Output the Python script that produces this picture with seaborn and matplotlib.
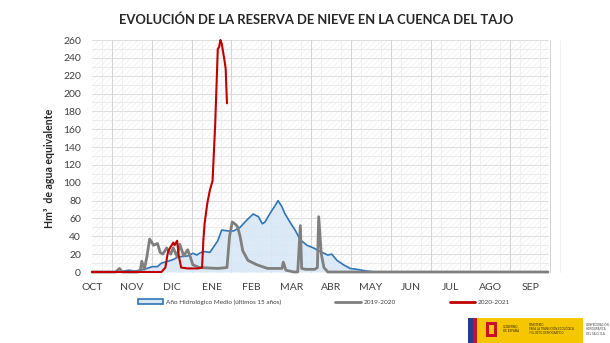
import matplotlib
matplotlib.use("Agg")
import matplotlib.pyplot as plt
import numpy as np
import pandas as pd
import seaborn as sns
from matplotlib.patches import Rectangle, Patch
from matplotlib.lines import Line2D

# ---------------- data ----------------
meses = ["OCT", "NOV", "DIC", "ENE", "FEB", "MAR", "ABR", "MAY", "JUN", "JUL", "AGO", "SEP"]
dias_mes = 30.4

dias_medio = [0, 21, 28, 33, 40, 46, 50, 53, 58, 62, 66, 73, 77, 80, 82, 85, 90, 96, 99,
              104, 108, 113, 118, 123, 127, 130, 132, 136, 140, 142, 145, 147, 151, 155,
              159, 164, 169, 174, 180, 183, 187, 192, 197, 202, 210, 216, 348]
medio = [0, 0, 2, 1, 3, 6, 6, 10, 12, 14, 17, 18, 21, 19, 21, 23, 22, 35, 47,
         46, 46, 50, 58, 65, 62, 54, 56, 66, 75, 80, 73, 66, 56, 47,
         36, 30, 27, 23, 19, 20, 13, 8, 4, 3, 1, 0, 0]

dias_1920 = [0, 18, 21, 23, 35, 37, 38, 40, 42, 44, 47, 50, 52, 54, 57, 60, 62, 65, 67,
             70, 73, 75, 77, 82, 96, 103, 105, 107, 109, 111, 113, 115, 119, 126, 134,
             145, 146, 148, 154, 157, 159, 160, 163, 170, 172, 173, 175, 177, 180, 348]
serie_1920 = [0, 0, 4, 0, 0, 3, 12, 3, 18, 37, 30, 32, 22, 20, 27, 20, 27, 17, 31,
              18, 25, 17, 8, 5, 4, 5, 40, 56, 54, 51, 40, 24, 13, 8, 4,
              4, 11, 2, 0, 0, 52, 4, 3, 3, 5, 62, 20, 5, 0, 0]

dias_2021 = [0, 53, 56, 58, 60, 62, 63, 65, 66, 68, 73, 81, 84, 85, 86, 88, 90, 92,
             94, 96, 97, 98, 99, 101, 102, 103]
serie_2021 = [0, 0, 5, 23, 28, 33, 30, 35, 20, 5, 4, 4, 5, 36, 55, 77, 92, 102,
              165, 250, 252, 260, 256, 238, 228, 189]

df_medio = pd.DataFrame({"dia": dias_medio, "valor": medio})
df_1920 = pd.DataFrame({"dia": dias_1920, "valor": serie_1920})
df_2021 = pd.DataFrame({"dia": dias_2021, "valor": serie_2021})

# ---------------- style ----------------
sns.set_theme(style="white")
plt.rcParams["font.family"] = ["Lato", "DejaVu Sans"]
plt.rcParams["hatch.linewidth"] = 0.4

c_blue = "#2e75b6"
c_fill = "#d9e7f5"
c_gray = "#7f7f7f"
c_red = "#c00000"
c_text = "#404040"

W, H = 610, 343
fig = plt.figure(figsize=(W / 100, H / 100), dpi=100)
fig.patch.set_facecolor("white")
ax = fig.add_axes([92 / W, 1 - 272 / H, 456 / W, 232 / H])

# background hatch + grid
ax.add_patch(Rectangle((0, 0), 1, 1, transform=ax.transAxes, facecolor="white",
                       edgecolor="#ececec", hatch="//////", lw=0, zorder=0))
for yv in np.arange(10, 261, 10):
    ax.axhline(yv, color="#d9d9d9" if yv % 20 == 0 else "#e8e8e8", lw=0.6, zorder=0.5)
for k in range(12):
    ax.axvline((k + 0.5) * dias_mes, color="#d4d4d4", lw=0.7, zorder=0.5)
    for q in (0.25, 0.75):
        ax.axvline((k + q) * dias_mes, color="#ebebeb", lw=0.5, zorder=0.5)

# series
ax.fill_between(df_medio["dia"], df_medio["valor"], 0, color=c_fill, alpha=0.9, zorder=1, lw=0)
sns.lineplot(data=df_medio, x="dia", y="valor", ax=ax, color=c_blue, lw=1.2, zorder=2)
sns.lineplot(data=df_1920, x="dia", y="valor", ax=ax, color=c_gray, lw=2.0, zorder=3)
sns.lineplot(data=df_2021, x="dia", y="valor", ax=ax, color=c_red, lw=1.5, zorder=4)
for ln in ax.lines:
    ln.set_clip_on(False)
    ln.set_solid_joinstyle("round")

ax.set_xlim(0, 348)
ax.set_ylim(0, 260)
ax.set_xticks([i * dias_mes for i in range(12)])
ax.set_xticklabels(meses)
ax.set_yticks(range(0, 261, 20))
ax.tick_params(axis="x", length=0, pad=8, labelsize=7.5, colors=c_text)
ax.tick_params(axis="y", length=0, pad=8, labelsize=7.5, colors=c_text)
ax.set_xlabel("")
ax.set_ylabel("")
for s in ax.spines.values():
    s.set_visible(False)
ax.set_facecolor("white")

# title and y label
fig.text(316 / W, 1 - 20 / H, "EVOLUCIÓN DE LA RESERVA DE NIEVE EN LA CUENCA DEL TAJO",
         ha="center", va="center", fontsize=9.4, fontweight="bold", color="#262626")
fig.text(50 / W, 1 - 168 / H, "Hm³  de agua equivalente", rotation=90, ha="center",
         va="center", fontsize=7.6, fontweight="bold", color="#262626")

# legend
handles = [Patch(facecolor=c_fill, edgecolor=c_blue, lw=1.2),
           Line2D([], [], color=c_gray, lw=2),
           Line2D([], [], color=c_red, lw=2)]
labels = ["Año Hidrológico Medio (últimos 15 años)", "2019-2020", "2020-2021"]
fig.legend(handles, labels, loc="center", bbox_to_anchor=(324 / W, 1 - 302 / H), ncol=3,
           frameon=False, fontsize=4.6, handlelength=4, columnspacing=8.5,
           handletextpad=0.4, labelcolor=c_text)

# logo (Gobierno de España / Ministerio / Confederación)
def fig_rect(x0, y0, x1, y1, color):
    fig.patches.append(Rectangle((x0 / W, 1 - y1 / H), (x1 - x0) / W, (y1 - y0) / H,
                                 transform=fig.transFigure, facecolor=color, lw=0))

fig_rect(468, 318, 473, 343, "#233c8c")
fig_rect(473, 318, 477, 343, "#c8102e")
fig_rect(477, 318, 583, 343, "#f6c700")
fig_rect(486, 322, 497, 337, "#c8102e")
fig_rect(489, 325, 494, 334, "#f6c700")
fig.text(503 / W, 1 - 329 / H, "GOBIERNO\nDE ESPAÑA", fontsize=2.2, color="#3a2a00",
         va="center", ha="left", linespacing=1.1)
fig.text(529 / W, 1 - 329 / H, "MINISTERIO\nPARA LA TRANSICIÓN ECOLÓGICA\nY EL RETO DEMOGRÁFICO",
         fontsize=2.0, color="#3a2a00", va="center", ha="left", linespacing=1.1)
fig.text(586 / W, 1 - 329 / H, "CONFEDERACIÓN\nHIDROGRÁFICA\nDEL TAJO, O.A.",
         fontsize=2.0, color="#404040", va="center", ha="left", linespacing=1.1)

fig.savefig("out.png", dpi=100, facecolor="white")
